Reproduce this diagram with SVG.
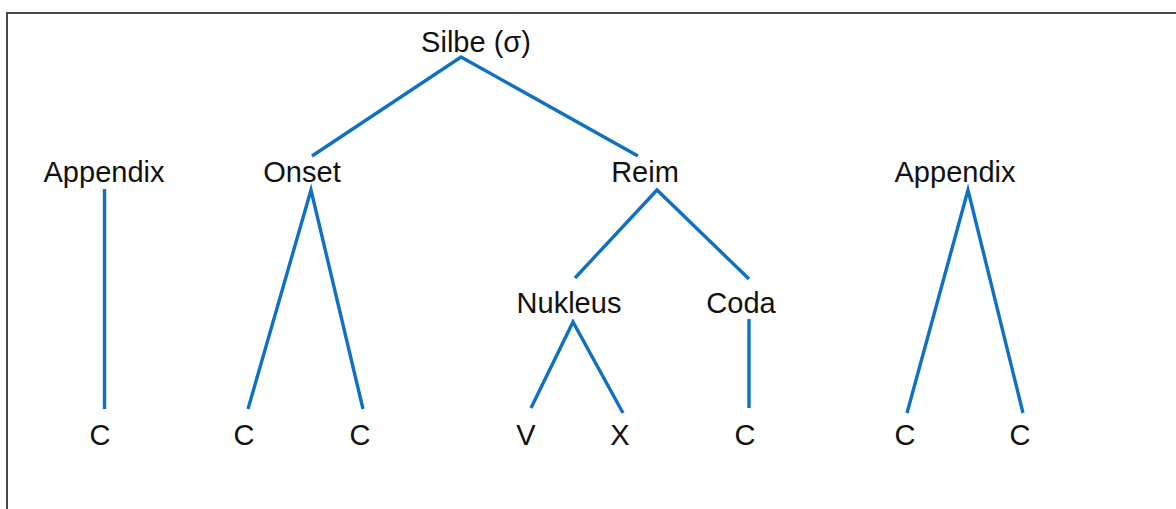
<svg xmlns="http://www.w3.org/2000/svg" width="1176" height="509" viewBox="0 0 1176 509">
<style>
.t{font-family:"Liberation Sans",Arial,sans-serif;font-size:29px;fill:#111;text-anchor:middle}
.e{stroke:#1071c2;stroke-width:3.4;fill:none;stroke-linecap:butt}
</style>
<rect x="0" y="0" width="1176" height="509" fill="#fff"/>
<rect x="7" y="13" width="1190" height="520" fill="none" stroke="#4a4a4a" stroke-width="2"/>
<g id="connectors">
<polyline class="e" points="312,156 461,57 638,156"/>
<line class="e" x1="104.5" y1="189" x2="104.5" y2="409"/>
<polyline class="e" points="248,409 311,190 363,409"/>
<polyline class="e" points="575,278 657,190 749,279"/>
<polyline class="e" points="531,408 573,322 623,413"/>
<line class="e" x1="749" y1="319" x2="749" y2="408"/>
<polyline class="e" points="907,413 968,190 1023,413"/>
</g>
<g id="n-silbe"><text class="t" x="476" y="52">Silbe (σ)</text></g>
<g id="n-appendix1"><text class="t" x="104" y="182">Appendix</text></g>
<g id="n-onset"><text class="t" x="302" y="182">Onset</text></g>
<g id="n-reim"><text class="t" x="645" y="182">Reim</text></g>
<g id="n-appendix2"><text class="t" x="955" y="182">Appendix</text></g>
<g id="n-nukleus"><text class="t" x="569" y="313">Nukleus</text></g>
<g id="n-coda"><text class="t" x="741" y="313">Coda</text></g>
<g id="n-c1"><text class="t" x="100" y="445">C</text></g>
<g id="n-c2"><text class="t" x="244" y="445">C</text></g>
<g id="n-c3"><text class="t" x="360" y="445">C</text></g>
<g id="n-v"><text class="t" x="526" y="445">V</text></g>
<g id="n-x"><text class="t" x="620" y="445">X</text></g>
<g id="n-c4"><text class="t" x="745" y="445">C</text></g>
<g id="n-c5"><text class="t" x="905" y="445">C</text></g>
<g id="n-c6"><text class="t" x="1020" y="445">C</text></g>
</svg>
